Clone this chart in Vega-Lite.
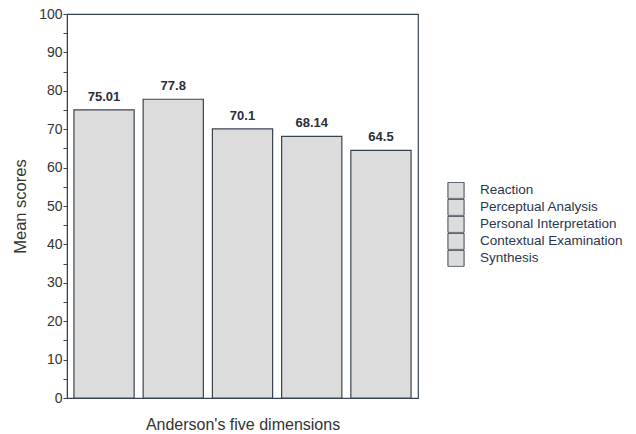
{
  "$schema": "https://vega.github.io/schema/vega-lite/v6.json",
  "autosize": "none",
  "padding": {"left": 67, "top": 14, "right": 218, "bottom": 36},
  "width": 351,
  "height": 384,
  "background": "white",
  "config": {
    "font": "Liberation Sans",
    "view": {"stroke": "#3a4450", "strokeWidth": 1.2},
    "axis": {"domainColor": "#3a4450", "tickColor": "#3a4450", "labelColor": "#333", "titleColor": "#333", "labelFont": "Liberation Sans", "titleFont": "Liberation Sans", "grid": false}
  },
  "data": {
    "values": [
      {"dimension": "Reaction", "score": 75.01, "label": "75.01"},
      {"dimension": "Perceptual Analysis", "score": 77.8, "label": "77.8"},
      {"dimension": "Personal Interpretation", "score": 70.1, "label": "70.1"},
      {"dimension": "Contextual Examination", "score": 68.14, "label": "68.14"},
      {"dimension": "Synthesis", "score": 64.5, "label": "64.5"}
    ]
  },
  "encoding": {
    "x": {
      "field": "dimension", "type": "nominal", "sort": null,
      "scale": {"paddingInner": 0.13, "paddingOuter": 0.1},
      "axis": {"title": "Anderson's five dimensions", "labels": false, "ticks": false, "titleFontSize": 16, "titleFontWeight": "normal", "titlePadding": 18}
    },
    "y": {
      "field": "score", "type": "quantitative",
      "scale": {"domain": [0, 100], "nice": false},
      "axis": {"title": "Mean scores", "values": [0,5,10,15,20,25,30,35,40,45,50,55,60,65,70,75,80,85,90,95,100], "labelExpr": "datum.value % 10 === 0 ? datum.label : ''", "labelFontSize": 14, "tickSize": 4, "labelPadding": 1, "titleFontSize": 16.5, "titleFontWeight": "normal", "titlePadding": 10}
    }
  },
  "layer": [
    {
      "mark": {"type": "bar", "stroke": "#3a4450", "strokeWidth": 1.2},
      "encoding": {
        "color": {
          "field": "dimension", "type": "nominal", "sort": null,
          "scale": {"range": ["#dcdcdc", "#dcdcdc", "#dcdcdc", "#dcdcdc", "#dcdcdc"]},
          "legend": {"title": null, "orient": "none", "legendX": 380, "legendY": 168, "symbolType": "square", "symbolSize": 260, "symbolStrokeColor": "#3a4450", "symbolStrokeWidth": 1, "symbolFillColor": "#dcdcdc", "labelFontSize": 13.5, "labelColor": "#2a3550", "labelOffset": 15, "rowPadding": 0, "clipHeight": 16.7, "labelFont": "Liberation Sans"}
        }
      }
    },
    {
      "mark": {"type": "text", "baseline": "bottom", "dy": -6, "fontSize": 13, "fontWeight": "bold", "color": "#2a2f3a"},
      "encoding": {"text": {"field": "label"}}
    }
  ]
}
